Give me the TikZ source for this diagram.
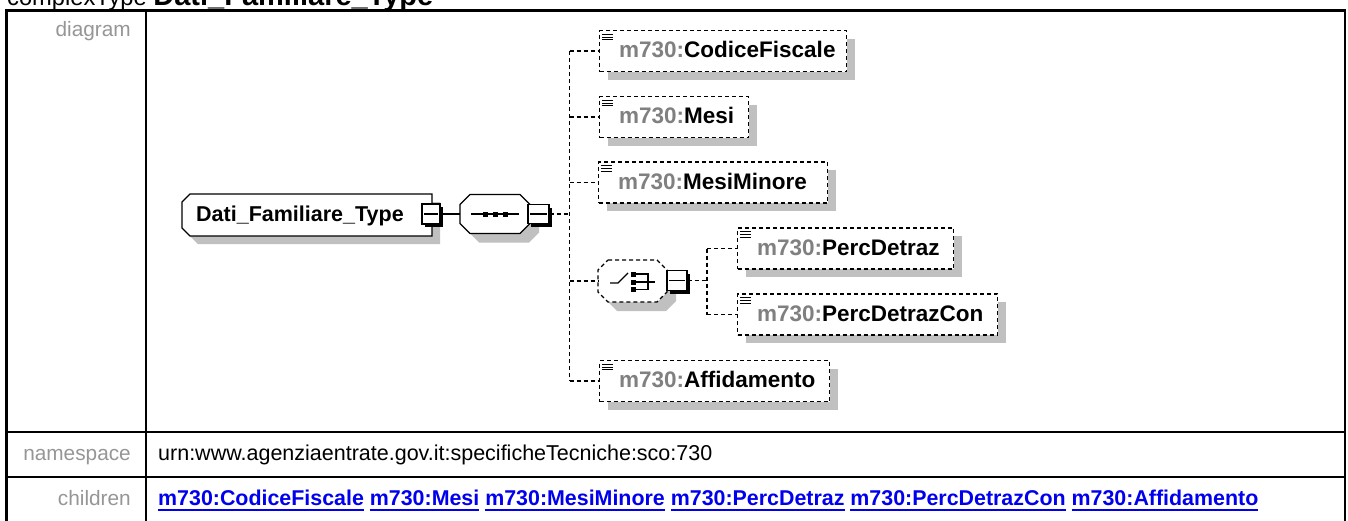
\documentclass[tikz,border=0pt]{standalone}
\usepackage{fontspec}
\setmainfont{Liberation Sans}
\usepackage{graphicx}
\usetikzlibrary{shadows}
\definecolor{shadowgray}{RGB}{192,192,192}
\definecolor{labelgray}{RGB}{150,150,150}
\definecolor{prefixgray}{RGB}{128,128,128}
\definecolor{linkblue}{RGB}{0,0,238}
\newsavebox\lnkbox
\newcommand\linkul[1]{\sbox\lnkbox{#1}\rlap{\rule[-6.3pt]{\wd\lnkbox}{2.3pt}}\usebox\lnkbox}
\newcommand\elemlabel[2]{\makebox[#1pt][l]{\hspace*{19.5pt}\textcolor{prefixgray}{m730:}#2}}
\tikzset{
  tbl/.style={line width=2.2pt},
  rowlabel/.style={anchor=base east, inner sep=0, text=labelgray, font=\fontsize{20.8}{24}\selectfont},
  boxline/.style={line width=1.3pt},
  dashes/.style={dash pattern=on 4pt off 3pt},
  conn/.style={line width=1.2pt, dash pattern=on 4pt off 3pt},
  solidconn/.style={line width=1.3pt},
  elem/.style={draw, fill=white, line width=1.3pt, dash pattern=on 4pt off 3pt, anchor=west,
    minimum height=41pt, inner sep=0, text height=13pt, text depth=0pt,
    font=\fontsize{22.5}{26}\selectfont\bfseries,
    drop shadow={shadow xshift=8pt, shadow yshift=-8pt, fill=shadowgray, opacity=1}},
  btn/.style={draw, fill=white, line width=1.3pt, inner sep=0,
    drop shadow={shadow xshift=3pt, shadow yshift=-3pt, fill=black, opacity=1}},
  ghost/.style={inner sep=0}
}
\begin{document}
\begin{tikzpicture}[x=1pt,y=-1pt]
\useasboundingbox (0,0) rectangle (1348,520);
\clip (0,0) rectangle (1348,520);
\fill[white] (0,0) rectangle (1348,520);

% title (cut off at the top)
\node[anchor=base west, inner sep=0, font=\fontsize{23.7}{28}\selectfont] (title) at (7,5)
  {complexType {\fontsize{29}{34}\selectfont\bfseries Dati\_Familiare\_Type}};

% table
\draw[tbl] (6.5,10.5) rectangle (1345,560);
\draw[tbl] (146,10.5) -- (146,560);
\draw[tbl] (6.5,432) -- (1345,432);
\draw[tbl] (6.5,477) -- (1345,477);

\node[rowlabel] (lbldiag) at (131,36.5) {diagram};
\node[rowlabel] (lblns) at (131,460.5) {namespace};
\node[rowlabel] (lblch) at (131,505) {children};
\node[anchor=base west, inner sep=0, font=\fontsize{21.5}{25}\selectfont] (nsval) at (158,460.5)
  {urn:www.agenziaentrate.gov.it:specificheTecniche:sco:730};
\node[anchor=base west, inner sep=0, text=linkblue, font=\fontsize{21.4}{25}\selectfont\bfseries] (kids) at (158,505)
  {\linkul{m730:CodiceFiscale} \linkul{m730:Mesi} \linkul{m730:MesiMinore} \linkul{m730:PercDetraz} \linkul{m730:PercDetrazCon} \linkul{m730:Affidamento}};

% main type box
\fill[shadowgray] (198,202)--(440,202)--(440,244)--(198,244)--(190,236)--(190,210)--cycle;
\draw[boxline, fill=white] (190,194)--(432,194)--(432,236)--(190,236)--(182,228)--(182,202)--cycle;
% sequence
\fill[shadowgray] (479,203.5)--(529,203.5)--(539,213.5)--(539,232.5)--(529,242.5)--(479,242.5)--(469,232.5)--(469,213.5)--cycle;
\draw[boxline, fill=white] (470,194.5)--(520,194.5)--(530,204.5)--(530,223.5)--(520,233.5)--(470,233.5)--(460,223.5)--(460,204.5)--cycle;
% choice
\fill[shadowgray] (617,269)--(666,269)--(676,279)--(676,301)--(666,311)--(617,311)--(607,301)--(607,279)--cycle;
\draw[boxline, dashes, fill=white] (608,260)--(657,260)--(667,270)--(667,292)--(657,302)--(608,302)--(598,292)--(598,270)--cycle;

\node[ghost, anchor=base west, font=\fontsize{21.5}{25}\selectfont\bfseries] (main) at (196,221) {Dati\_Familiare\_Type};
\node[btn, minimum width=18pt, minimum height=20pt] (mainbtn) at (431,214) {};
\node[ghost, minimum width=70pt, minimum height=39pt] (seq) at (495,214) {};
\node[btn, minimum width=21pt, minimum height=19pt] (seqbtn) at (538.5,214) {};
\node[ghost, minimum width=69pt, minimum height=42pt] (ch) at (632.5,281) {};
\node[btn, minimum width=20pt, minimum height=20pt] (chbtn) at (677,280.5) {};

% sequence symbol
\draw[boxline] ([xshift=-24pt]seq.center) -- ([xshift=24pt]seq.center);
\foreach \x in {485,495,505} \fill (\x-2.5,211.5) rectangle (\x+2.5,216.5);
% choice symbol
\draw[boxline] (610,283) -- (618,283) -- (628,273);
\fill (631,271.5) rectangle (636,276.5);
\fill (631,279.5) rectangle (636,284.5);
\fill (631,287) rectangle (636,292);
\draw[boxline] (636,274) -- (648,274) -- (648,289.5) -- (636,289.5);
\draw[boxline] (636,282) -- (655,282);
% minus signs
\foreach \b in {mainbtn,seqbtn,chbtn}
  \draw[boxline] ([xshift=3pt]\b.west) -- ([xshift=-3pt]\b.east);

% elements
\node[elem] (cf) at (599,51) {\elemlabel{247}{CodiceFiscale}};
\node[elem] (mesi) at (599,117) {\elemlabel{149}{Mesi}};
\node[elem] (mm) at (598,182.5) {\elemlabel{229}{MesiMinore}};
\node[elem] (pd) at (737,248.5) {\elemlabel{216}{PercDetraz}};
\node[elem] (pdc) at (737,314.5) {\elemlabel{260}{PercDetrazCon}};
\node[elem] (aff) at (599,381) {\elemlabel{230}{Affidamento}};
\foreach \n in {cf,mesi,mm,pd,pdc,aff}
  \foreach \dy in {4.5,7.2,9.9}
    \draw[line width=1.1pt] ([shift={(3,\dy)}]\n.north west) -- ++(11,0);

% connectors
\draw[solidconn] (mainbtn.east) -- (seq.west);
\coordinate (bus) at (569.5,214);
\draw[conn] (seqbtn.east) -- (bus);
\draw[conn] (bus |- cf.west) -- (bus |- aff.west);
\foreach \n in {cf,mesi,mm,ch,aff}
  \draw[conn] (bus |- \n.west) -- (\n.west);
\coordinate (cbus) at (707,280.5);
\draw[conn] (chbtn.east) -- (cbus);
\draw[conn] (cbus |- pd.west) -- (cbus |- pdc.west);
\foreach \n in {pd,pdc}
  \draw[conn] (cbus |- \n.west) -- (\n.west);
\end{tikzpicture}
\end{document}
